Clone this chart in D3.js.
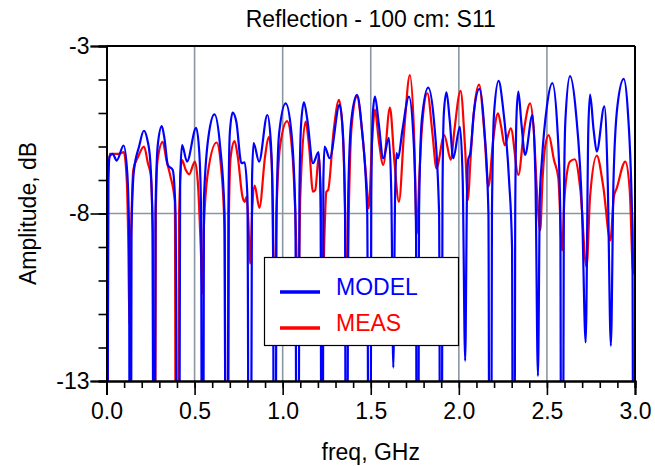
<!DOCTYPE html>
<html><head><meta charset="utf-8">
<script src="https://cdn.jsdelivr.net/npm/d3@7"></script>
<style>body{margin:0;background:#fff} text{font-family:"Liberation Sans",Arial,sans-serif}</style>
</head><body><svg id="c" width="655" height="466"></svg>
<script>
const title = "Reflection - 100 cm: S11";
const xLabel = "freq, GHz";
const yLabel = "Amplitude, dB";
const seriesNames = ["MODEL", "MEAS"];
const xTickLabels = [0.0, 0.5, 1.0, 1.5, 2.0, 2.5, 3.0];
const yTickLabels = [-3, -8, -13];

const modelFreq = [0.000,0.010,0.018,0.035,0.058,0.097,0.118,0.128,0.135,0.142,0.155,0.185,0.212,0.232,0.248,0.262,0.270,0.278,0.291,0.314,0.330,0.348,0.376,0.392,0.407,0.418,0.429,0.457,0.509,0.527,0.537,0.545,0.553,0.580,0.613,0.645,0.670,0.682,0.692,0.700,0.716,0.737,0.766,0.784,0.800,0.813,0.826,0.835,0.866,0.913,0.932,0.945,0.954,0.965,0.980,1.017,1.050,1.072,1.085,1.095,1.105,1.121,1.140,1.172,1.204,1.215,1.224,1.231,1.238,1.267,1.323,1.342,1.354,1.361,1.372,1.390,1.422,1.450,1.480,1.494,1.503,1.512,1.524,1.545,1.571,1.603,1.617,1.628,1.638,1.646,1.655,1.680,1.717,1.745,1.757,1.764,1.774,1.790,1.826,1.860,1.888,1.899,1.907,1.915,1.930,1.948,1.968,2.006,2.022,2.036,2.046,2.053,2.065,2.085,2.117,2.145,2.168,2.178,2.188,2.200,2.226,2.250,2.285,2.302,2.311,2.320,2.328,2.338,2.355,2.376,2.418,2.435,2.449,2.460,2.471,2.500,2.531,2.560,2.576,2.585,2.596,2.605,2.631,2.665,2.700,2.720,2.735,2.745,2.765,2.783,2.826,2.845,2.863,2.878,2.900,2.936,2.960,2.985,2.995,3.000];
const modelDb = [-30,-7.0,-6.3,-6.22,-6.42,-5.97,-6.8,-8.5,-30,-8.5,-6.75,-6.0,-5.53,-5.8,-6.4,-8.5,-30,-8.0,-5.96,-5.39,-5.8,-6.55,-6.7,-8.0,-30,-7.0,-5.96,-6.45,-5.44,-6.2,-8.0,-30,-7.6,-5.66,-5.04,-6.0,-8.0,-30,-8.0,-5.6,-4.99,-5.26,-6.5,-6.47,-7.5,-30,-7.0,-5.9,-6.45,-5.06,-5.8,-8.0,-30,-8.0,-5.6,-4.71,-5.6,-8.0,-30,-7.5,-5.3,-4.68,-5.2,-6.5,-6.17,-7.5,-30,-7.0,-6.0,-6.35,-4.76,-5.6,-8.0,-30,-7.5,-5.2,-4.46,-5.5,-8.0,-30,-7.5,-5.0,-4.51,-5.3,-6.35,-5.74,-7.5,-12.6,-7.5,-6.2,-6.35,-5.5,-4.51,-6.0,-8.5,-30,-8.0,-5.2,-4.24,-5.3,-8.0,-30,-7.5,-5.0,-4.38,-5.2,-6.35,-5.41,-7.0,-12.4,-7.5,-6.4,-6.2,-5.0,-4.28,-5.5,-8.0,-30,-8.0,-5.0,-4.04,-4.8,-7.0,-9.0,-30,-8.0,-5.0,-4.36,-5.3,-6.25,-5.06,-7.0,-12.85,-7.5,-6.45,-4.8,-4.11,-5.5,-8.0,-30,-8.0,-5.2,-3.9,-5.0,-8.0,-11.85,-5.5,-4.45,-5.5,-6.15,-4.8,-7.0,-11.95,-7.0,-4.8,-3.98,-5.0,-8.5,-30,-15];

const measFreq = [0.000,0.010,0.018,0.040,0.070,0.098,0.115,0.124,0.130,0.140,0.152,0.180,0.213,0.235,0.251,0.262,0.270,0.280,0.289,0.319,0.340,0.362,0.388,0.398,0.412,0.428,0.450,0.469,0.502,0.520,0.535,0.545,0.552,0.575,0.625,0.650,0.670,0.682,0.695,0.705,0.727,0.745,0.772,0.785,0.795,0.805,0.815,0.828,0.841,0.868,0.900,0.921,0.938,0.952,0.965,0.985,1.025,1.055,1.075,1.088,1.100,1.130,1.150,1.172,1.185,1.206,1.216,1.226,1.238,1.248,1.258,1.290,1.320,1.340,1.355,1.365,1.375,1.390,1.422,1.450,1.475,1.488,1.510,1.524,1.545,1.571,1.609,1.635,1.660,1.690,1.722,1.745,1.762,1.775,1.790,1.822,1.850,1.873,1.917,1.955,1.975,2.010,2.035,2.052,2.065,2.085,2.115,2.145,2.168,2.195,2.222,2.240,2.260,2.295,2.338,2.370,2.405,2.425,2.445,2.462,2.475,2.490,2.510,2.540,2.565,2.586,2.600,2.631,2.658,2.690,2.725,2.745,2.783,2.820,2.860,2.880,2.896,2.945,2.970,2.990,3.000];
const measDb = [-30,-7.0,-6.22,-6.22,-6.22,-6.17,-7.0,-9.0,-11.3,-8.5,-6.7,-6.3,-6.0,-6.5,-6.85,-8.5,-30,-8.0,-6.45,-5.86,-6.4,-6.87,-7.65,-30,-8.0,-6.4,-6.7,-6.83,-6.45,-7.2,-9.0,-10.4,-8.5,-6.8,-5.88,-6.6,-8.5,-30,-8.0,-6.3,-5.84,-6.3,-7.5,-7.65,-7.5,-8.2,-9.5,-7.8,-7.17,-7.83,-6.3,-5.71,-6.5,-11.0,-8.0,-6.0,-5.24,-6.2,-8.5,-11.0,-7.5,-5.26,-6.0,-7.35,-7.3,-6.25,-7.5,-11.0,-8.5,-7.35,-7.3,-5.5,-4.61,-5.5,-8.0,-11.0,-8.0,-5.5,-4.51,-5.5,-7.0,-7.85,-5.6,-4.9,-5.8,-6.55,-4.84,-6.5,-7.65,-5.5,-3.87,-5.5,-8.6,-7.0,-5.5,-4.41,-5.6,-6.65,-5.66,-6.4,-5.5,-4.34,-6.0,-7.6,-6.5,-5.0,-4.15,-5.6,-7.2,-5.8,-5.01,-5.4,-5.96,-5.46,-6.85,-5.5,-4.71,-5.5,-7.5,-8.5,-7.0,-6.0,-5.66,-6.4,-6.95,-9.1,-7.5,-6.45,-6.38,-7.3,-9.6,-7.5,-6.27,-7.2,-8.8,-7.5,-7.25,-6.45,-7.3,-9.8,-8.0];

const svg = d3.select("#c");
const m = {l: 106.5, r: 635, t: 46, b: 381};
const x = d3.scaleLinear().domain([0, 3]).range([m.l, m.r]);
const y = d3.scaleLinear().domain([-13, -3]).range([m.b, m.t]);
const gridColor = "#8a96a2";

svg.append("defs").append("clipPath").attr("id","clip")
  .append("rect").attr("x", m.l).attr("y", m.t).attr("width", m.r - m.l).attr("height", m.b - m.t);

// grid
svg.append("g").selectAll("line").data(xTickLabels.slice(1, -1)).join("line")
  .attr("x1", d => x(d)).attr("x2", d => x(d)).attr("y1", m.t).attr("y2", m.b)
  .attr("stroke", gridColor).attr("stroke-width", 1.6);
svg.append("g").selectAll("line").data(yTickLabels.slice(1, -1)).join("line")
  .attr("y1", d => y(d)).attr("y2", d => y(d)).attr("x1", m.l).attr("x2", m.r)
  .attr("stroke", gridColor).attr("stroke-width", 1.6);

// curves
const line = d3.line().x(d => x(d[0])).y(d => y(d[1])).curve(d3.curveMonotoneX);
const meas = measFreq.map((f, i) => [f, measDb[i]]);
const model = modelFreq.map((f, i) => [f, modelDb[i]]);
const gc = svg.append("g").attr("clip-path", "url(#clip)");
gc.append("path").datum(meas).attr("d", line).attr("fill", "none").attr("stroke", "#ff0000").attr("stroke-width", 2.2).attr("stroke-linejoin","round");
gc.append("path").datum(model).attr("d", line).attr("fill", "none").attr("stroke", "#0000ff").attr("stroke-width", 2.2).attr("stroke-linejoin","round");

// frame
svg.append("line").attr("x1", m.l).attr("x2", m.r).attr("y1", m.t).attr("y2", m.t).attr("stroke", "#000").attr("stroke-width", 2);
svg.append("line").attr("x1", m.r).attr("x2", m.r).attr("y1", m.t).attr("y2", m.b).attr("stroke", "#000").attr("stroke-width", 2);

// axes
const xMinor = d3.range(0, 31).map(i => i / 10);
const yMinor = d3.range(-13, -2);
const gx = svg.append("g").attr("transform", `translate(0,${m.b})`)
  .call(d3.axisBottom(x).tickValues(xMinor).tickSize(7).tickFormat(""));
const gxMaj = svg.append("g").attr("transform", `translate(0,${m.b})`)
  .call(d3.axisBottom(x).tickValues(xTickLabels).tickSize(14).tickPadding(8).tickFormat(d => d.toFixed(1)));
const gy = svg.append("g").attr("transform", `translate(${m.l},0)`)
  .call(d3.axisLeft(y).tickValues(yMinor).tickSize(8).tickFormat(""));
const gyMaj = svg.append("g").attr("transform", `translate(${m.l},0)`)
  .call(d3.axisLeft(y).tickValues(yTickLabels).tickSize(16).tickPadding(1).tickFormat(d => String(d)));
[gx, gxMaj, gy, gyMaj].forEach(g => {
  g.select(".domain").attr("stroke", "#000").attr("stroke-width", 2);
  g.selectAll(".tick line").attr("stroke", "#000").attr("stroke-width", 1.6);
  g.selectAll("text").attr("fill", "#000").style("font-size", "23px").style("font-family", '"Liberation Sans", Arial, sans-serif');
});

// titles
svg.append("text").attr("x", (m.l + m.r) / 2).attr("y", 27).attr("text-anchor", "middle")
  .style("font-size", "23px").text(title);
svg.append("text").attr("x", (m.l + m.r) / 2).attr("y", 460).attr("text-anchor", "middle")
  .style("font-size", "23px").text(xLabel);
svg.append("text").attr("transform", `translate(36,${(m.t + m.b) / 2}) rotate(-90)`).attr("text-anchor", "middle")
  .style("font-size", "23px").text(yLabel);

// legend
const lg = svg.append("g");
lg.append("rect").attr("x", 264.5).attr("y", 257.5).attr("width", 194).attr("height", 88)
  .attr("fill", "#fff").attr("stroke", "#000").attr("stroke-width", 1.2);
const colors = ["#0000ff", "#ff0000"];
const legY = [292, 328];
seriesNames.forEach((n, i) => {
  lg.append("line").attr("x1", 280).attr("x2", 320).attr("y1", legY[i]).attr("y2", legY[i])
    .attr("stroke", colors[i]).attr("stroke-width", 3.5);
  lg.append("text").attr("x", 336).attr("y", legY[i] + 3).attr("fill", colors[i])
    .style("font-size", "23px").text(n);
});
</script></body></html>
